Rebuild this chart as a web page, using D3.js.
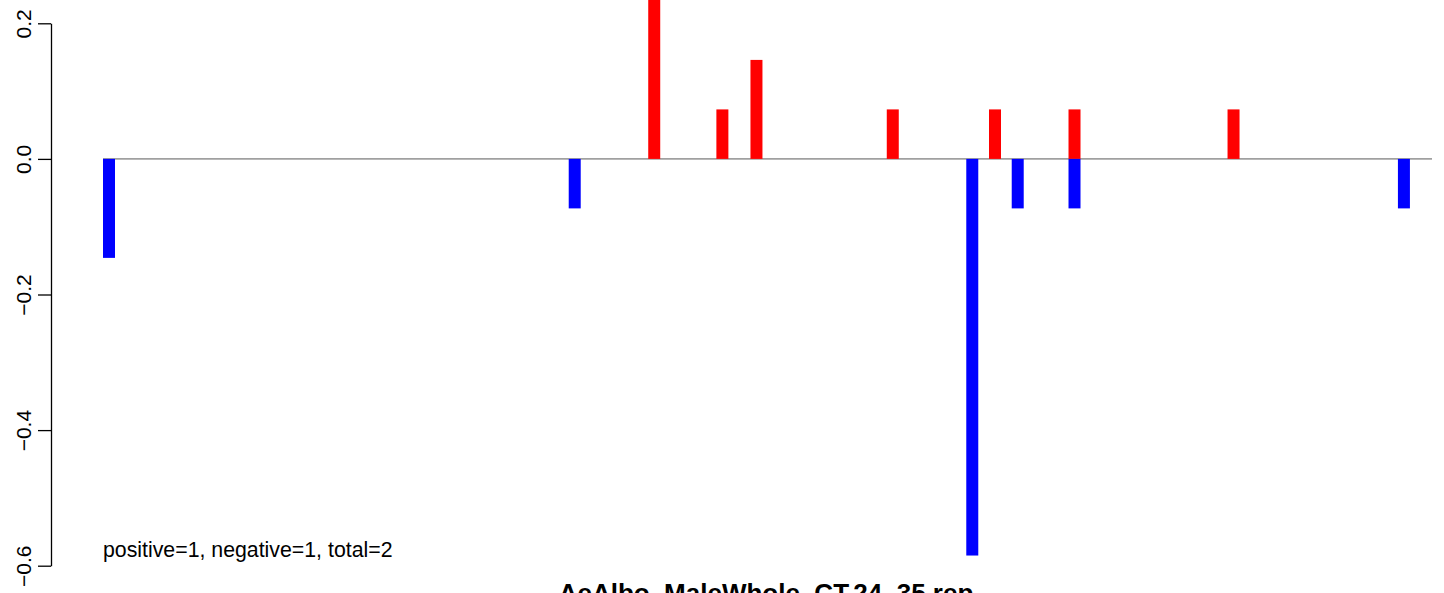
<!DOCTYPE html>
<html>
<head>
<meta charset="utf-8">
<script src="https://cdn.jsdelivr.net/npm/d3@7"></script>
<style>
  html, body { margin: 0; padding: 0; background: #fff; }
  svg { display: block; font-family: "Liberation Sans", Arial, sans-serif; }
</style>
</head>
<body>
<svg id="chart" width="1444" height="593"></svg>
<script>
// Data
const positivePositions = [48, 54, 57, 69, 78, 85, 99];
const positiveValues    = [0.30, 0.073, 0.146, 0.073, 0.073, 0.073, 0.073];
const negativePositions = [0, 41, 76, 80, 85, 114];
const negativeValues    = [-0.146, -0.073, -0.585, -0.073, -0.073, -0.073];
const yTicks = [-0.6, -0.4, -0.2, 0.0, 0.2];
const slotCount = 117;
const annotation = "positive=1, negative=1, total=2";
const title = "AeAlbo_MaleWhole_CT.24_35.rep";

const svg = d3.select("#chart");

const x = d3.scaleLinear().domain([0, slotCount]).range([103, 1432]);
const y = d3.scaleLinear().domain([-0.6, 0.2]).range([565.7, 23.3]);
const barW = x(1.056) - x(0);

const pos = positivePositions.map((p, i) => ({p, v: positiveValues[i]}));
const neg = negativePositions.map((p, i) => ({p, v: negativeValues[i]}));

// zero line
svg.append("line")
  .attr("x1", x(0)).attr("x2", x(slotCount))
  .attr("y1", y(0)).attr("y2", y(0))
  .attr("stroke", "#a0a0a0").attr("stroke-width", 1.7);

svg.append("g").selectAll("rect").data(pos).join("rect")
  .attr("x", d => x(d.p))
  .attr("width", barW)
  .attr("y", d => y(d.v))
  .attr("height", d => y(0) - y(d.v))
  .attr("fill", "#ff0000");

svg.append("g").selectAll("rect").data(neg).join("rect")
  .attr("x", d => x(d.p))
  .attr("width", barW)
  .attr("y", d => y(0))
  .attr("height", d => y(d.v) - y(0))
  .attr("fill", "#0000ff");

// y axis
const axis = d3.axisLeft(y).tickValues(yTicks).tickSize(13).tickSizeOuter(0)
  .tickFormat(d3.format(".1f"));
const g = svg.append("g").attr("transform", "translate(51,0)").call(axis);
g.select(".domain").attr("stroke", "#000").attr("stroke-width", 1.3);
g.selectAll(".tick line").attr("stroke", "#000").attr("stroke-width", 1.3);
g.selectAll(".tick text")
  .text(d => d3.format(".1f")(d).replace("-", "\u2212"))
  .attr("x", null).attr("dy", null)
  .attr("text-anchor", "middle")
  .attr("font-size", 21)
  .attr("fill", "#000")
  .attr("transform", "translate(-20,0) rotate(-90)");

// annotation
svg.append("text")
  .attr("x", 103).attr("y", 557)
  .attr("font-size", 21.3)
  .attr("fill", "#000")
  .text(annotation);

// title
svg.append("text")
  .attr("x", 766).attr("y", 602)
  .attr("text-anchor", "middle")
  .attr("font-size", 26)
  .attr("font-weight", "bold")
  .attr("fill", "#000")
  .text(title);
</script>
</body>
</html>
